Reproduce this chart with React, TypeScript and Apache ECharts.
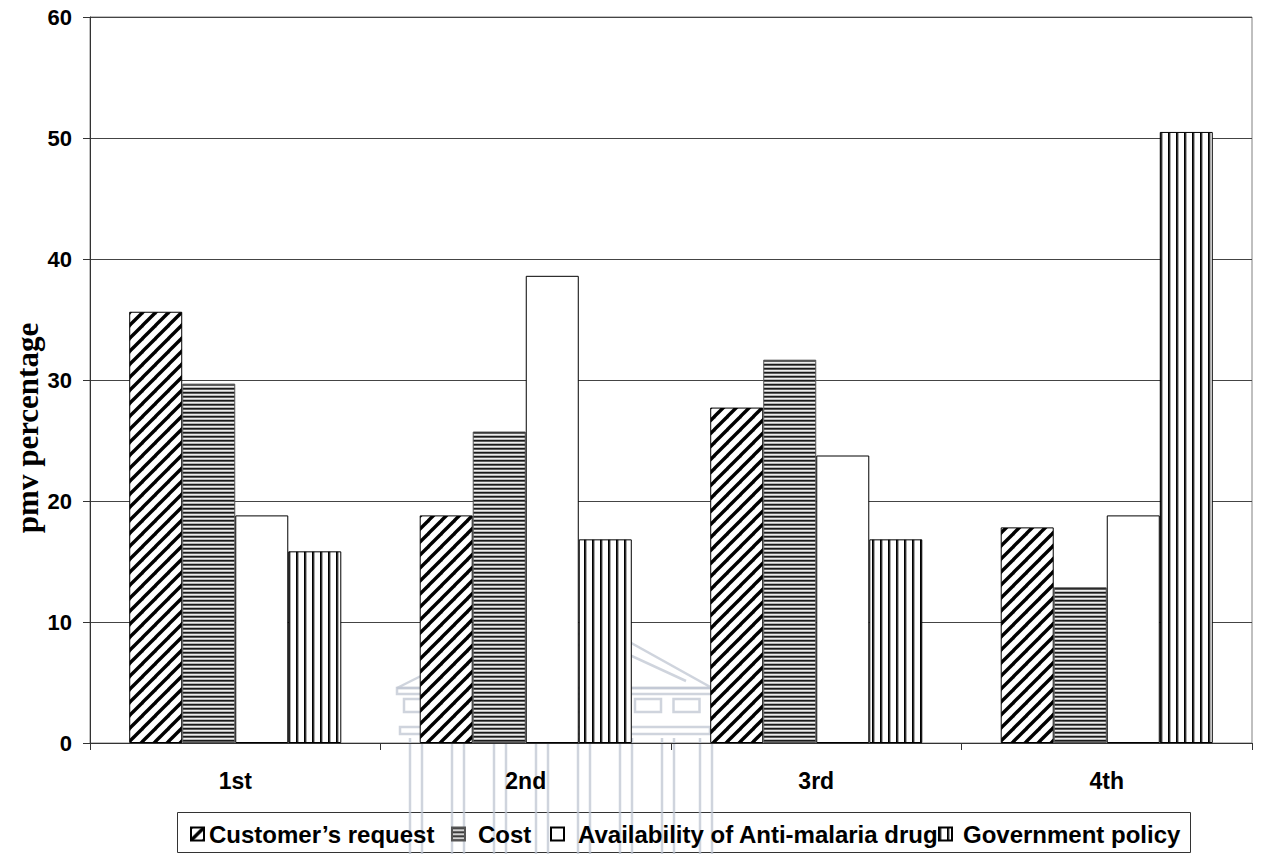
import React, { useEffect, useRef } from 'react';
import * as echarts from 'echarts';

const categories = ['1st', '2nd', '3rd', '4th'];
const seriesNames = ['Customer’s request', 'Cost', 'Availability of Anti-malaria drug', 'Government policy'];
const customerRequest = [35.64, 18.81, 27.72, 17.82];
const cost = [29.7, 25.74, 31.68, 12.87];
const availability = [18.81, 38.61, 23.76, 18.81];
const governmentPolicy = [15.84, 16.83, 16.83, 50.5];
const yMin = 0;
const yMax = 60;
const yInterval = 10;
const yAxisTitle = 'pmv percentage';

function makeCanvas(w: number, h: number, draw: (ctx: CanvasRenderingContext2D) => void) {
  const c = document.createElement('canvas');
  c.width = w;
  c.height = h;
  const ctx = c.getContext('2d') as CanvasRenderingContext2D;
  ctx.fillStyle = '#ffffff';
  ctx.fillRect(0, 0, w, h);
  draw(ctx);
  return c;
}

function makePatterns() {
  const diag = makeCanvas(13, 13, (ctx) => {
    ctx.strokeStyle = '#000';
    ctx.lineWidth = 3.4;
    for (const o of [-13, 0, 13]) {
      ctx.beginPath();
      ctx.moveTo(o - 1, 14);
      ctx.lineTo(o + 14, -1);
      ctx.stroke();
    }
  });
  const horiz = makeCanvas(4, 4, (ctx) => {
    const rows = ['#1a1a1a', '#5e5e5e', '#eeeeee', '#b5b5b5'];
    rows.forEach((c, i) => {
      ctx.fillStyle = c;
      ctx.fillRect(0, i, 4, 1);
    });
  });
  const vert = makeCanvas(8, 4, (ctx) => {
    const cols = ['#000', '#333', '#aaa'];
    cols.forEach((c, i) => {
      ctx.fillStyle = c;
      ctx.fillRect(i, 0, 1, 4);
    });
  });
  return {
    diag: { image: diag, repeat: 'repeat' },
    horiz: { image: horiz, repeat: 'repeat' },
    vert: { image: vert, repeat: 'repeat' },
  };
}

function watermark() {
  const st = { stroke: '#bfc5d1', lineWidth: 2.5, fill: 'none', opacity: 0.75 };
  const els: any[] = [];
  els.push({ type: 'polygon', shape: { points: [[397, 688], [505, 634], [615, 634], [712, 688]] }, style: st });
  els.push({ type: 'polyline', shape: { points: [[425, 681], [512, 645], [608, 645], [686, 681]] }, style: st });
  els.push({ type: 'rect', shape: { x: 397, y: 688, width: 315, height: 6 }, style: st });
  for (let i = 0; i < 8; i++) {
    els.push({ type: 'rect', shape: { x: 404 + i * 38.5, y: 699, width: 26, height: 13 }, style: st });
  }
  els.push({ type: 'rect', shape: { x: 400, y: 727, width: 310, height: 7 }, style: st });
  const colX = [410, 452, 494, 536, 578, 620, 662, 700];
  colX.forEach((x) => {
    els.push({ type: 'line', shape: { x1: x, y1: 738, x2: x, y2: 854 }, style: st });
    els.push({ type: 'line', shape: { x1: x + 12, y1: 738, x2: x + 12, y2: 854 }, style: st });
  });
  return { type: 'group', silent: true, z: 50, children: els };
}

export default function App() {
  const ref = useRef<HTMLDivElement>(null);
  useEffect(() => {
    if (!ref.current) return;
    const chart = echarts.init(ref.current, null, { renderer: 'svg' });
    const p = makePatterns();
    const fills = [p.diag, p.horiz, '#ffffff', p.vert];
    const borders = ['#000', '#555', '#000', '#000'];
    const values = [customerRequest, cost, availability, governmentPolicy];
    const legendLeft = [190, 451, 550, 938];
    const legendPad = [0, 8, 9, 6];
    const textStyle = { fontFamily: 'Liberation Sans, Arial, sans-serif', fontWeight: 'bold' as const, color: '#000' };

    chart.setOption({
      animation: false,
      backgroundColor: '#fff',
      grid: { left: 90, right: 9, top: 17, bottom: 111, show: true, borderColor: '#808080', borderWidth: 1, backgroundColor: 'transparent' },
      legend: seriesNames.map((n, i) => ({
        data: [n],
        left: legendLeft[i],
        top: 822,
        padding: 0,
        itemWidth: 13,
        itemHeight: 13,
        icon: 'rect',
        selectedMode: false,
        textStyle: { ...textStyle, fontSize: 24, lineHeight: 24, padding: [0, 0, 0, legendPad[i]] },
      })),
      xAxis: {
        type: 'category',
        data: categories,
        axisLine: { show: true, lineStyle: { color: '#333', width: 1 } },
        axisTick: { show: true, alignWithLabel: false, length: 7, lineStyle: { color: '#333' } },
        axisLabel: { ...textStyle, fontSize: 23, margin: 26 },
        splitLine: { show: false },
      },
      yAxis: {
        type: 'value',
        min: yMin,
        max: yMax,
        interval: yInterval,
        axisLine: { show: true, lineStyle: { color: '#333', width: 1 } },
        axisTick: { show: true, length: 7, lineStyle: { color: '#333' } },
        axisLabel: { ...textStyle, fontSize: 22, margin: 18 },
        splitLine: { show: true, lineStyle: { color: '#444', width: 1 } },
      },
      series: seriesNames.map((n, i) => ({
        name: n,
        type: 'bar',
        data: values[i],
        barGap: '0%',
        barCategoryGap: '27%',
        itemStyle: { color: fills[i], borderColor: borders[i], borderWidth: 1 },
        emphasis: { disabled: true },
      })),
      graphic: [
        {
          type: 'text',
          x: 27,
          y: 428,
          rotation: Math.PI / 2,
          style: {
            text: yAxisTitle,
            font: 'bold 31px "Liberation Serif", "Times New Roman", serif',
            fill: '#000',
            textAlign: 'center',
            textVerticalAlign: 'middle',
          },
        },
        {
          type: 'rect',
          shape: { x: 177.5, y: 812.5, width: 1013, height: 40 },
          style: { fill: 'none', stroke: '#333', lineWidth: 1 },
          silent: true,
        },
        watermark(),
      ],
    });
    return () => chart.dispose();
  }, []);
  return <div ref={ref} style={{ position: 'fixed', left: 0, top: 0, width: 1261, height: 854 }} />;
}
